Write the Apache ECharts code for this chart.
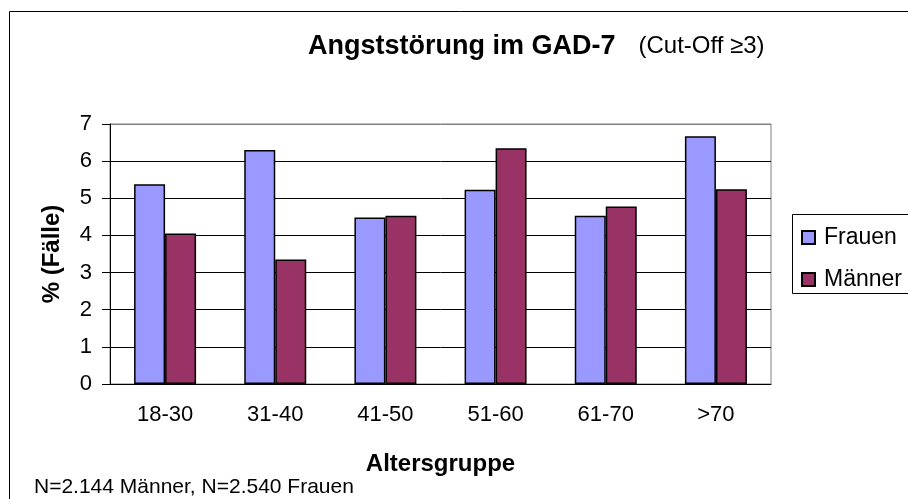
<!DOCTYPE html>
<html>
<head>
<meta charset="utf-8">
<script src="https://cdn.jsdelivr.net/npm/echarts@6/dist/echarts.min.js"></script>
<style>
  html, body { margin: 0; padding: 0; background: #fff; }
  #chart { width: 908px; height: 499px; }
</style>
</head>
<body>
<div id="chart"></div>
<script>
const categories = ["18-30", "31-40", "41-50", "51-60", "61-70", ">70"];
const frauen = [5.38, 6.30, 4.48, 5.23, 4.53, 6.67];
const maenner = [4.05, 3.35, 4.53, 6.35, 4.78, 5.24];
const yTicks = [0, 1, 2, 3, 4, 5, 6, 7];

const FONT = "'Liberation Sans', Arial, sans-serif";

const chart = echarts.init(document.getElementById("chart"));

chart.setOption({
  backgroundColor: "#fff",
  animation: false,
  textStyle: { fontFamily: FONT, color: "#000" },
  title: {
    left: 308,
    top: 33,
    padding: 0,
    text: "{a|Angststörung im GAD-7}{b|(Cut-Off ≥3)}",
    textStyle: {
      rich: {
        a: { fontFamily: FONT, fontSize: 27, fontWeight: "bold", color: "#000" },
        b: { fontFamily: FONT, fontSize: 24, fontWeight: "normal", color: "#000", padding: [0, 0, 0, 23] },
      },
    },
  },
  legend: {
    orient: "vertical",
    left: 792,
    top: 214,
    padding: [12, 10, 8, 9],
    itemGap: 19,
    itemWidth: 13,
    itemHeight: 13,
    icon: "rect",
    borderWidth: 0,
    textStyle: { fontFamily: FONT, fontSize: 23, color: "#000", lineHeight: 20, padding: [0, 0, 0, 4] },
    data: ["Frauen", "Männer"],
  },
  grid: {
    left: 110,
    right: 137,
    top: 124,
    bottom: 115,
    show: true,
    borderColor: "#808080",
    borderWidth: 1,
    backgroundColor: "transparent",
  },
  xAxis: {
    type: "category",
    data: categories,
    name: "Altersgruppe",
    nameLocation: "middle",
    nameGap: 68,
    nameTextStyle: { fontFamily: FONT, fontSize: 24, fontWeight: "bold", color: "#000" },
    axisLine: { lineStyle: { color: "#000", width: 1 } },
    axisTick: { length: 8, lineStyle: { color: "#000" } },
    axisLabel: { fontFamily: FONT, fontSize: 22, color: "#000", margin: 20 },
  },
  yAxis: {
    type: "value",
    min: 0,
    max: 7,
    interval: 1,
    name: "% (Fälle)",
    nameLocation: "middle",
    nameGap: 46,
    nameRotate: 90,
    nameTextStyle: { fontFamily: FONT, fontSize: 24, fontWeight: "bold", color: "#000" },
    axisLine: { show: true, lineStyle: { color: "#000", width: 1 } },
    axisTick: { show: true, length: 8, lineStyle: { color: "#000" } },
    axisLabel: {
      fontFamily: FONT, fontSize: 22, color: "#000", margin: 18,
      formatter: (v) => (yTicks.includes(v) ? String(v) : ""),
    },
    splitLine: {
      show: true,
      lineStyle: { color: ["#000", "#000", "#000", "#000", "#000", "#000", "#000", "#808080"], width: 1 },
    },
  },
  graphic: [
    {
      type: "rect",
      shape: { x: 9.5, y: 11.5, width: 1000, height: 1000 },
      style: { fill: "none", stroke: "#000", lineWidth: 1 },
      silent: true,
      z: -1,
    },
    {
      // legend frame, runs off the right edge like the original
      type: "rect",
      shape: { x: 792.5, y: 214.5, width: 200, height: 79 },
      style: { fill: "none", stroke: "#000", lineWidth: 1 },
      silent: true,
    },
    {
      type: "text",
      left: 34,
      top: 477,
      style: { text: "N=2.144 Männer, N=2.540 Frauen", font: "21px " + FONT, fill: "#000" },
    },
  ],
  series: [
    {
      name: "Frauen",
      type: "bar",
      data: frauen,
      barWidth: 31,
      barGap: "0%",
      itemStyle: { color: "#9999FF", borderColor: "#000", borderWidth: 1.5 },
    },
    {
      name: "Männer",
      type: "bar",
      data: maenner,
      barWidth: 31,
      barGap: "0%",
      itemStyle: { color: "#993366", borderColor: "#000", borderWidth: 1.5 },
    },
  ],
});
</script>
</body>
</html>
